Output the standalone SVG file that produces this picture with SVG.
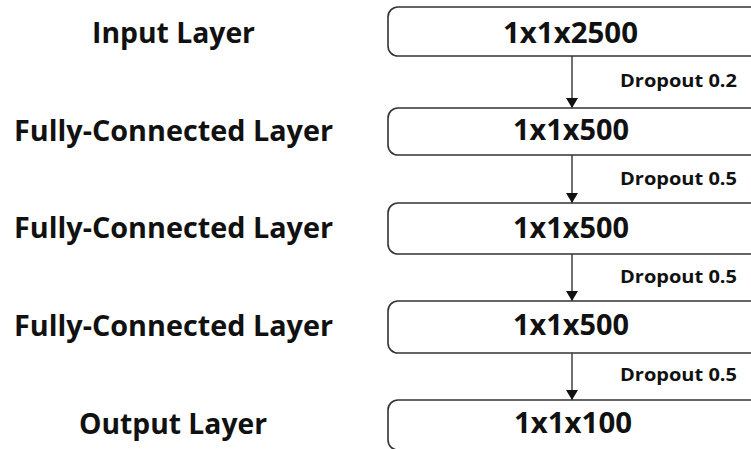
<svg xmlns="http://www.w3.org/2000/svg" width="751" height="449" viewBox="0 0 751 449">
  <style>
    .lbl { font-family: "Open Sans", "Liberation Sans", sans-serif; font-weight: bold; font-size: 29px; fill: #111; text-anchor: middle; }
    .box { fill: #fff; stroke: #333; stroke-width: 1.6; }
    .dim { font-family: "Open Sans", "Liberation Sans", sans-serif; font-weight: bold; font-size: 28px; fill: #111; text-anchor: middle; }
    .drop { font-family: "Open Sans", "Liberation Sans", sans-serif; font-weight: bold; font-size: 18px; fill: #111; }
    .arrow { stroke: #111; stroke-width: 1.2; fill: none; marker-end: url(#head); }
  </style>
  <defs>
    <marker id="head" viewBox="0 0 10 12" refX="10" refY="6" markerWidth="10" markerHeight="12" markerUnits="userSpaceOnUse" orient="auto">
      <path d="M0,0 L10,6 L0,12 Z" fill="#111"/>
    </marker>
  </defs>
  <rect width="751" height="449" fill="#fff"/>

  <!-- layer names -->
  <g id="labels">
    <text class="lbl" x="173.5" y="43" textLength="163" lengthAdjust="spacingAndGlyphs">Input Layer</text>
    <text class="lbl" x="173.5" y="141" textLength="319" lengthAdjust="spacingAndGlyphs">Fully-Connected Layer</text>
    <text class="lbl" x="173.5" y="238" textLength="319" lengthAdjust="spacingAndGlyphs">Fully-Connected Layer</text>
    <text class="lbl" x="173.5" y="336" textLength="319" lengthAdjust="spacingAndGlyphs">Fully-Connected Layer</text>
    <text class="lbl" x="173" y="434" textLength="188" lengthAdjust="spacingAndGlyphs">Output Layer</text>
  </g>

  <!-- connectors between layers -->
  <g id="connectors">
    <line class="arrow" x1="572" y1="56" x2="572" y2="108"/>
    <line class="arrow" x1="572" y1="155" x2="572" y2="203"/>
    <line class="arrow" x1="572" y1="254" x2="572" y2="301"/>
    <line class="arrow" x1="572" y1="353" x2="572" y2="400"/>
    <text class="drop" x="620" y="87" textLength="117" lengthAdjust="spacingAndGlyphs">Dropout 0.2</text>
    <text class="drop" x="620" y="185" textLength="117" lengthAdjust="spacingAndGlyphs">Dropout 0.5</text>
    <text class="drop" x="620" y="283" textLength="117" lengthAdjust="spacingAndGlyphs">Dropout 0.5</text>
    <text class="drop" x="620" y="381" textLength="117" lengthAdjust="spacingAndGlyphs">Dropout 0.5</text>
  </g>

  <g id="input">
    <rect class="box" x="388" y="7" width="380" height="49" rx="10"/>
    <text class="dim" x="570.5" y="43" textLength="135" lengthAdjust="spacingAndGlyphs">1x1x2500</text>
  </g>
  <g id="fc1">
    <rect class="box" x="388" y="108" width="380" height="47" rx="10"/>
    <text class="dim" x="571" y="140" textLength="116" lengthAdjust="spacingAndGlyphs">1x1x500</text>
  </g>
  <g id="fc2">
    <rect class="box" x="388" y="203" width="380" height="51" rx="10"/>
    <text class="dim" x="571" y="238" textLength="116" lengthAdjust="spacingAndGlyphs">1x1x500</text>
  </g>
  <g id="fc3">
    <rect class="box" x="388" y="301" width="380" height="52" rx="10"/>
    <text class="dim" x="571" y="335" textLength="116" lengthAdjust="spacingAndGlyphs">1x1x500</text>
  </g>
  <g id="output">
    <rect class="box" x="388" y="400" width="380" height="50" rx="10"/>
    <text class="dim" x="573" y="433" textLength="118" lengthAdjust="spacingAndGlyphs">1x1x100</text>
  </g>
</svg>
